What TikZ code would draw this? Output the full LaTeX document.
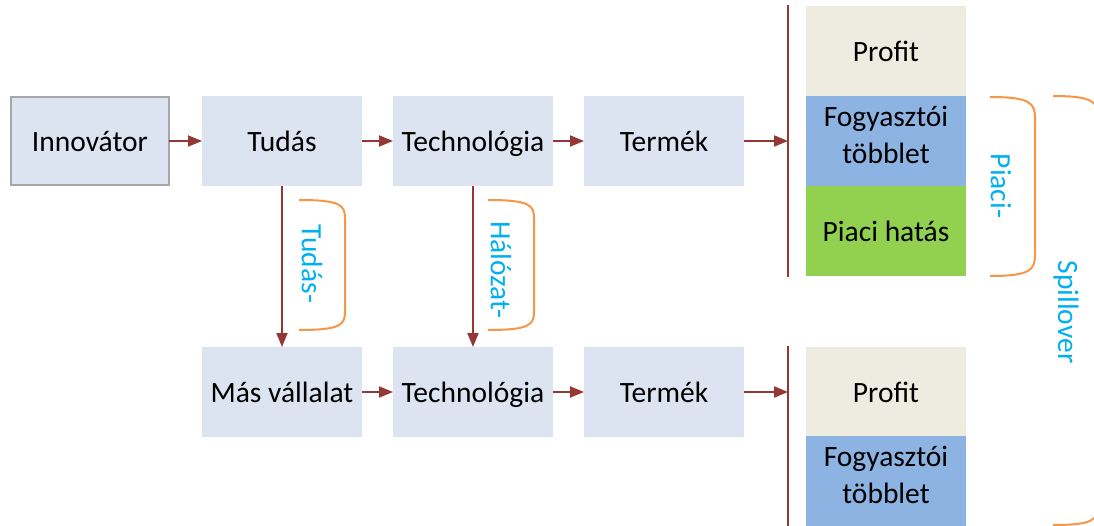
\documentclass[tikz,border=0pt]{standalone}
\usepackage{fontspec}
\setmainfont{Carlito}
\usetikzlibrary{arrows.meta}
\definecolor{boxfill}{HTML}{DBE4F0}
\definecolor{boxedge}{HTML}{A6A6A6}
\definecolor{flow}{HTML}{953735}
\definecolor{profitfill}{HTML}{EEECE1}
\definecolor{surplusfill}{HTML}{8DB3E2}
\definecolor{marketfill}{HTML}{92D050}
\definecolor{brace}{HTML}{F79646}
\definecolor{spill}{HTML}{00B0F0}
\begin{document}
\begin{tikzpicture}[x=1pt,y=-1pt,
  font=\fontsize{29.5}{37}\selectfont,
  stage/.style={fill=boxfill, minimum width=160pt, minimum height=90pt,
    inner sep=0pt, outer sep=0pt, align=center,
    text height=20.6pt, text depth=0pt},
  share/.style={minimum width=160pt, minimum height=90pt,
    inner sep=0pt, outer sep=0pt, align=center},
  twoline/.style={share, text depth=13pt},
  flowarrow/.style={draw=flow, line width=2pt,
    -{Triangle[length=14pt,width=11pt]}},
  barline/.style={draw=flow, line width=2pt},
  bracket/.style={draw=brace, line width=2pt},
  spilltext/.style={text=spill, rotate=-90, inner sep=0pt}]
\useasboundingbox (0,0) rectangle (1094,526);
\clip (0,0) rectangle (1094,526);

% upper chain
\node[stage, draw=boxedge, line width=2pt, minimum width=158pt, minimum height=88pt]
  (inno) at (90,141) {Innovátor};
\node[stage] (tudas) at (282,141) {Tudás};
\node[stage] (tech1) at (473,141) {Technológia};
\node[stage] (term1) at (664,141) {Termék};

% lower chain
\node[stage] (mas) at (282,392) {Más vállalat};
\node[stage] (tech2) at (473,392) {Technológia};
\node[stage] (term2) at (664,392) {Termék};

% outcome columns
\node[share, fill=profitfill] (prof1) at (886,51) {Profit};
\node[twoline, fill=surplusfill] (surp1) at (886,141) {Fogyasztói\\többlet};
\node[share, fill=marketfill] (mark1) at (886,231) {Piaci hatás};
\node[share, fill=profitfill] (prof2) at (886,392) {Profit};
\node[twoline, fill=surplusfill] (surp2) at (886,481) {Fogyasztói\\többlet};

% separating bars
\coordinate (bar1top) at (788,5);
\coordinate (bar1bot) at (788,277);
\coordinate (bar2top) at (788,346);
\coordinate (bar2bot) at (788,526);
\coordinate (bar1in) at (788,141);
\coordinate (bar2in) at (788,392);
\draw[barline] (bar1top) -- (bar1bot);
\draw[barline] (bar2top) -- (bar2bot);

% horizontal flows
\draw[flowarrow] (inno.east) -- (tudas.west);
\draw[flowarrow] (tudas.east) -- (tech1.west);
\draw[flowarrow] (tech1.east) -- (term1.west);
\draw[flowarrow] (term1.east) -- (bar1in);
\draw[flowarrow] (mas.east) -- (tech2.west);
\draw[flowarrow] (tech2.east) -- (term2.west);
\draw[flowarrow] (term2.east) -- (bar2in);

% vertical spillover flows
\draw[flowarrow] (tudas.south) -- (mas.north);
\draw[flowarrow] (tech1.south) -- (tech2.north);

% brackets
\draw[bracket] (299,200) .. controls (340,200) and (345,205) .. (345,218)
  -- (345,312) .. controls (345,325) and (340,330) .. (299,330);
\draw[bracket] (488,200) .. controls (529,200) and (534,205) .. (534,218)
  -- (534,312) .. controls (534,325) and (529,330) .. (488,330);
\draw[bracket] (990,97) .. controls (1030,97) and (1035,103) .. (1035,118)
  -- (1035,255) .. controls (1035,270) and (1030,276) .. (990,276);
\draw[bracket] (1053,96) .. controls (1093,96) and (1098,102) .. (1098,117)
  -- (1098,505) .. controls (1098,520) and (1093,525) .. (1053,525);

% bracket labels
\node[spilltext] (lblT) at (312,264) {Tudás-};
\node[spilltext] (lblH) at (501,270) {Hálózat-};
\node[spilltext] (lblP) at (1001,186) {Piaci-};
\node[spilltext] (lblS) at (1066,312) {Spillover};
\end{tikzpicture}
\end{document}
